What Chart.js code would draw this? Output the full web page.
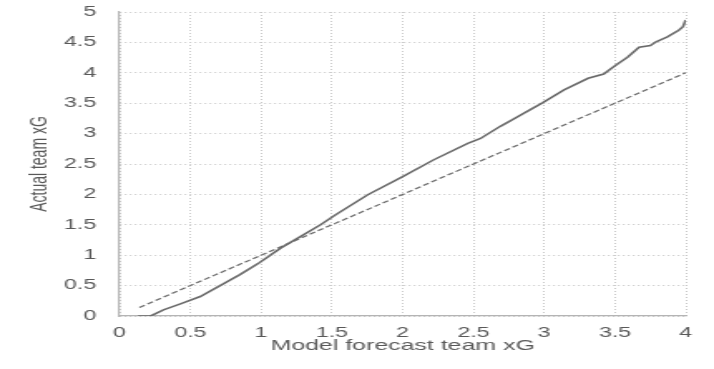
<!DOCTYPE html>
<html>
<head>
<meta charset="utf-8">
<script src="https://cdn.jsdelivr.net/npm/chart.js@4/dist/chart.umd.min.js"></script>
<style>
  html, body { margin: 0; padding: 0; background: #fff; overflow: hidden; }
  #xgChart { display: block; transform-origin: 0 0; }
</style>
</head>
<body>
<canvas id="xgChart" width="430" height="369"></canvas>
<script>
// the reference is a horizontally stretched picture, so draw narrow and stretch
const STRETCH = 714 / 430;

const forecastXG = [0.13, 0.22, 0.31, 0.43, 0.57, 0.71, 0.85, 0.99, 1.14, 1.28, 1.42, 1.51, 1.75, 1.99,
    2.22, 2.46, 2.55, 2.69, 2.76, 2.99, 3.14, 3.31, 3.42, 3.49, 3.59, 3.67, 3.75, 3.79, 3.87, 3.95, 3.98, 4.0];
const actualXG = [0, 0, 0.10, 0.20, 0.32, 0.50, 0.68, 0.88, 1.12, 1.31, 1.50, 1.64, 1.99, 2.28,
    2.57, 2.84, 2.92, 3.12, 3.21, 3.51, 3.72, 3.91, 3.98, 4.10, 4.26, 4.42, 4.45, 4.51, 4.59, 4.70, 4.76, 4.87];

// y = x reference line
const diagonalX = [0.14, 4];
const diagonalY = [0.14, 4];

const xTicks = [0, 0.5, 1, 1.5, 2, 2.5, 3, 3.5, 4];
const yTicks = [0, 0.5, 1, 1.5, 2, 2.5, 3, 3.5, 4, 4.5, 5];

const toPoints = (xs, ys) => xs.map((x, i) => ({ x: x, y: ys[i] }));

const canvas = document.getElementById('xgChart');
canvas.style.transform = 'scaleX(' + STRETCH + ')';

const fontFamily = '"Liberation Sans", Arial, sans-serif';
const textColor = '#595959';

new Chart(canvas, {
    type: 'scatter',
    data: {
        datasets: [
            {
                label: 'Actual',
                data: toPoints(forecastXG, actualXG),
                showLine: true,
                borderColor: '#6a6a6a',
                borderWidth: 1.6,
                pointRadius: 0,
                tension: 0
            },
            {
                label: 'Forecast',
                data: toPoints(diagonalX, diagonalY),
                showLine: true,
                borderColor: '#6a6a6a',
                borderWidth: 1.2,
                borderDash: [4, 2],
                pointRadius: 0
            }
        ]
    },
    options: {
        responsive: false,
        animation: false,
        layout: { padding: { top: 12, right: 17, left: 0, bottom: 0 } },
        plugins: { legend: { display: false }, tooltip: { enabled: false } },
        scales: {
            x: {
                type: 'linear',
                min: 0,
                max: 4,
                afterBuildTicks: scale => { scale.ticks = xTicks.map(v => ({ value: v })); },
                afterFit: scale => { scale.height = 53; },
                ticks: {
                    padding: 9,
                    color: textColor,
                    font: { family: fontFamily, size: 14 },
                    maxRotation: 0,
                    callback: v => String(v)
                },
                grid: { color: '#c8c8c8', lineWidth: 1, drawTicks: false },
                border: { display: true, color: '#b4b4b4', width: 1.2, dash: [1, 2] },
                title: {
                    display: true,
                    text: 'Model forecast team xG',
                    color: textColor,
                    font: { family: fontFamily, size: 15 },
                    padding: { top: 0, bottom: 14 }
                }
            },
            y: {
                type: 'linear',
                min: 0,
                max: 5,
                afterBuildTicks: scale => { scale.ticks = yTicks.map(v => ({ value: v })); },
                afterFit: scale => {
                    scale.width = 72;
                    scale.paddingTop = 0;
                    scale.paddingBottom = 0;
                },
                ticks: {
                    padding: 14,
                    color: textColor,
                    font: { family: fontFamily, size: 14 },
                    callback: v => String(v)
                },
                grid: { color: '#c8c8c8', lineWidth: 1, drawTicks: false },
                border: { display: true, color: '#b4b4b4', width: 1.2, dash: [1, 2] },
                title: {
                    display: true,
                    text: 'Actual team xG',
                    color: textColor,
                    font: { family: fontFamily, size: 14 },
                    padding: { top: 16, bottom: 0 }
                }
            }
        }
    }
});
</script>
</body>
</html>
